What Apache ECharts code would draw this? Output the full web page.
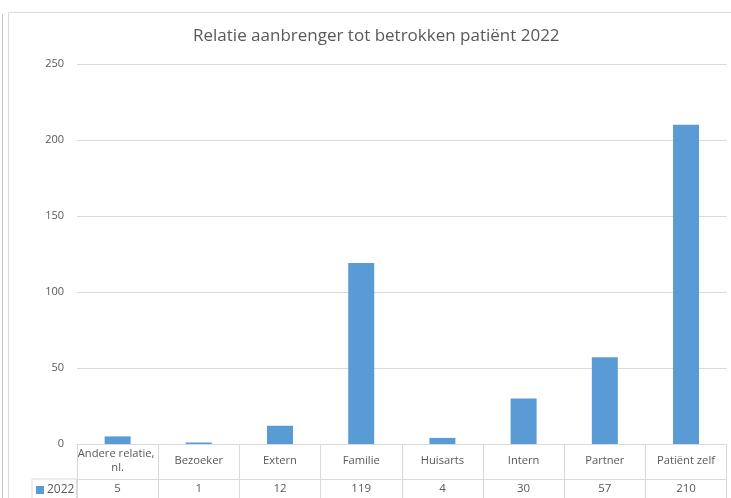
<!DOCTYPE html>
<html>
<head>
<meta charset="utf-8">
<script src="https://cdn.jsdelivr.net/npm/echarts@6/dist/echarts.min.js"></script>
<style>
html,body{margin:0;padding:0;background:#fff;}
#chart{width:731px;height:498px;}
</style>
</head>
<body>
<div id="chart"></div>
<script>
var categories = ["Andere relatie, nl.", "Bezoeker", "Extern", "Familie", "Huisarts", "Intern", "Partner", "Patiënt zelf"];
var values2022 = [5, 1, 12, 119, 4, 30, 57, 210];
var seriesName = "2022";
var titleText = "Relatie aanbrenger tot betrokken patiënt 2022";

var FONT = "Open Sans";
var GRAY = "#595959";
var LINE = "#d9d9d9";

var chart = echarts.init(document.getElementById('chart'));
chart.setOption({
  animation: false,
  backgroundColor: '#fff',
  textStyle: {fontFamily: FONT},
  title: {
    text: titleText,
    left: 188,
    top: 23,
    textStyle: {fontFamily: FONT, fontSize: 17, fontWeight: 'normal', color: GRAY}
  },
  legend: {
    data: [seriesName],
    left: 32,
    top: 479,
    icon: 'rect',
    itemWidth: 8,
    itemHeight: 8,
    itemGap: 0,
    padding: [5, 2, 20, 4],
    borderColor: LINE,
    borderWidth: 1,
    textStyle: {fontFamily: FONT, fontSize: 12, color: GRAY, padding: [0, 0, 0, -2]}
  },
  grid: {left: 77, right: 4, top: 64, bottom: 54},
  xAxis: [{
    type: 'category',
    data: categories,
    position: 'bottom',
    axisLine: {show: true, lineStyle: {color: LINE}},
    axisTick: {show: true, interval: 0, length: 60, inside: false, lineStyle: {color: LINE}},
    axisLabel: {
      interval: 0, color: GRAY, fontFamily: FONT, fontSize: 11.2,
      margin: 17, verticalAlign: 'middle', width: 84, overflow: 'break', lineHeight: 14
    }
  }, {
    type: 'category',
    data: categories,
    position: 'bottom',
    offset: 35,
    axisLine: {show: true, lineStyle: {color: LINE}},
    axisTick: {show: false},
    axisLabel: {
      interval: 0, color: GRAY, fontFamily: FONT, fontSize: 11.5,
      margin: 10, verticalAlign: 'middle',
      formatter: function (v, i) { return String(values2022[i]); }
    }
  }],
  yAxis: {
    type: 'value',
    min: 0, max: 250, interval: 50,
    axisLine: {show: false},
    axisTick: {show: false},
    splitLine: {lineStyle: {color: LINE}},
    axisLabel: {color: GRAY, fontFamily: FONT, fontSize: 11, margin: 13}
  },
  series: [{
    name: seriesName,
    type: 'bar',
    data: values2022,
    barWidth: 26,
    itemStyle: {color: '#5b9bd5'}
  }],
  graphic: [
    {type: 'line', shape: {x1: 8.5, y1: 12.5, x2: 731, y2: 12.5}, style: {stroke: LINE, lineWidth: 1}, silent: true},
    {type: 'line', shape: {x1: 8.5, y1: 12.5, x2: 8.5, y2: 498}, style: {stroke: LINE, lineWidth: 1}, silent: true},
    {type: 'line', shape: {x1: 2.5, y1: 14, x2: 2.5, y2: 498}, style: {stroke: '#c8c8c8', lineWidth: 1}, silent: true}
  ]
});
</script>
</body>
</html>
